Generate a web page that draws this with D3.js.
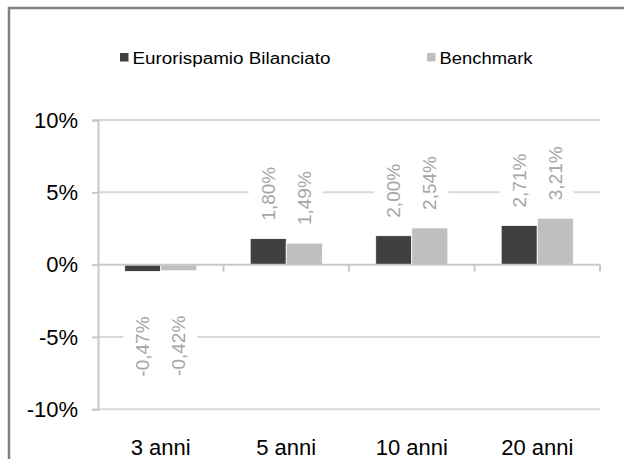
<!DOCTYPE html>
<html>
<head>
<meta charset="utf-8">
<script src="https://cdn.jsdelivr.net/npm/d3@7"></script>
<style>
  html, body { margin: 0; padding: 0; background: #fff; }
  svg { display: block; font-family: Arial, "Liberation Sans", sans-serif; }
</style>
</head>
<body>
<svg id="chart" width="624" height="459"></svg>
<script>
// Data
const categories = ["3 anni", "5 anni", "10 anni", "20 anni"];
const seriesNames = ["Eurorisparmio Bilanciato", "Benchmark"];
const fondo = [-0.47, 1.80, 2.00, 2.71];
const benchmark = [-0.42, 1.49, 2.54, 3.21];
const yTicks = [-10, -5, 0, 5, 10];

const colors = ["#404040", "#bfbfbf"];
const legendLabels = ["Eurorispamio Bilanciato", "Benchmark"];

const svg = d3.select("#chart");
const it = d3.formatLocale({decimal: ",", thousands: ".", grouping: [3], currency: ["", "€"]});
const fmtLabel = v => it.format(".2f")(v).replace("−", "-") + "%";

const rows = categories.map((c, i) => ({cat: c, values: [fondo[i], benchmark[i]]}));

// Outer frame
svg.append("rect")
  .attr("x", 9).attr("y", 8).attr("width", 640).attr("height", 480)
  .attr("fill", "none").attr("stroke", "#808080").attr("stroke-width", 2.5);

// Scales
const x0 = d3.scaleBand().domain(categories).range([98, 600]);
const x1 = d3.scaleBand().domain(seriesNames).range([0, x0.bandwidth()]).paddingOuter(0.74);
const y = d3.scaleLinear().domain([-10, 10]).range([409.3, 120]);

// Gridlines
svg.append("g").selectAll("line").data(yTicks.filter(t => t !== 0)).join("line")
  .attr("x1", 98).attr("x2", 600)
  .attr("y1", d => y(d)).attr("y2", d => y(d))
  .attr("stroke", "#d9d9d9").attr("stroke-width", 2);

// Y axis
const yAxis = svg.append("g").attr("transform", "translate(98,0)")
  .call(d3.axisLeft(y).tickValues(yTicks).tickSize(6).tickPadding(14).tickFormat(d => d + "%"));
yAxis.select(".domain").attr("stroke", "#c8c8c8").attr("stroke-width", 2);
yAxis.selectAll(".tick line").attr("stroke", "#c8c8c8").attr("stroke-width", 2);
yAxis.selectAll(".tick text").attr("fill", "#000").attr("font-size", 22)
  .attr("font-family", "Arial, 'Liberation Sans', sans-serif");

// Bars
const groups = svg.append("g").selectAll("g").data(rows).join("g")
  .attr("transform", d => `translate(${x0(d.cat)},0)`);

groups.selectAll("rect").data(d => d.values.map((v, i) => ({v, s: seriesNames[i], i}))).join("rect")
  .attr("x", d => x1(d.s))
  .attr("width", x1.bandwidth())
  .attr("y", d => y(Math.max(0, d.v)))
  .attr("height", d => Math.abs(y(d.v) - y(0)))
  .attr("fill", d => colors[d.i])
  .attr("stroke", "#fff").attr("stroke-width", 0.8);

// X axis at zero
const xAxisG = svg.append("g");
xAxisG.append("line")
  .attr("x1", 98).attr("x2", 600).attr("y1", y(0)).attr("y2", y(0))
  .attr("stroke", "#c8c8c8").attr("stroke-width", 2);
xAxisG.selectAll("line.tk").data(categories.slice(1).concat(["end"])).join("line")
  .attr("class", "tk")
  .attr("x1", (d, i) => 98 + x0.step() * (i + 1)).attr("x2", (d, i) => 98 + x0.step() * (i + 1))
  .attr("y1", y(0)).attr("y2", y(0) + 7)
  .attr("stroke", "#c8c8c8").attr("stroke-width", 2);

// Category labels
svg.append("g").selectAll("text").data(categories).join("text")
  .attr("x", d => x0(d) + x0.bandwidth() / 2)
  .attr("y", 455)
  .attr("text-anchor", "middle")
  .attr("font-size", 22)
  .attr("fill", "#000")
  .text(d => d);

// Data labels (rotated, white background)
const labels = [];
rows.forEach(r => r.values.forEach((v, i) => {
  const cx = x0(r.cat) + x1(seriesNames[i]) + x1.bandwidth() / 2;
  labels.push({v, cx});
}));
const lblG = svg.append("g");
const lbl = lblG.selectAll("g").data(labels).join("g");
lbl.append("rect").attr("class", "bg").attr("fill", "#fff");
lbl.append("text")
  .attr("transform", d => {
    const yy = d.v >= 0 ? y(d.v) - 18 : y(d.v) + 45;
    return `translate(${d.cx + 6.5},${yy}) rotate(-90)`;
  })
  .attr("text-anchor", d => d.v >= 0 ? "start" : "end")
  .attr("font-size", 19)
  .attr("fill", "#a6a6a6")
  .text(d => fmtLabel(d.v));
lbl.each(function() {
  const g = d3.select(this);
  const bb = g.select("text").node().getBBox();
  const t = g.select("text").node();
  const m = t.getCTM();
  const r = t.getBoundingClientRect();
  g.select("rect.bg")
    .attr("x", r.left - 9).attr("y", r.top - 4)
    .attr("width", r.width + 17).attr("height", r.height + 8);
});

// Legend
const legend = svg.append("g");
const legendX = [120, 427];
const legendW = [198, 93];
legendLabels.forEach((name, i) => {
  legend.append("rect")
    .attr("x", legendX[i]).attr("y", 53).attr("width", 8.5).attr("height", 8.5)
    .attr("fill", colors[i]);
  legend.append("text")
    .attr("x", legendX[i] + 12.5).attr("y", 63.5)
    .attr("font-size", 16)
    .attr("fill", "#000")
    .attr("textLength", legendW[i]).attr("lengthAdjust", "spacingAndGlyphs")
    .text(name);
});
</script>
</body>
</html>
